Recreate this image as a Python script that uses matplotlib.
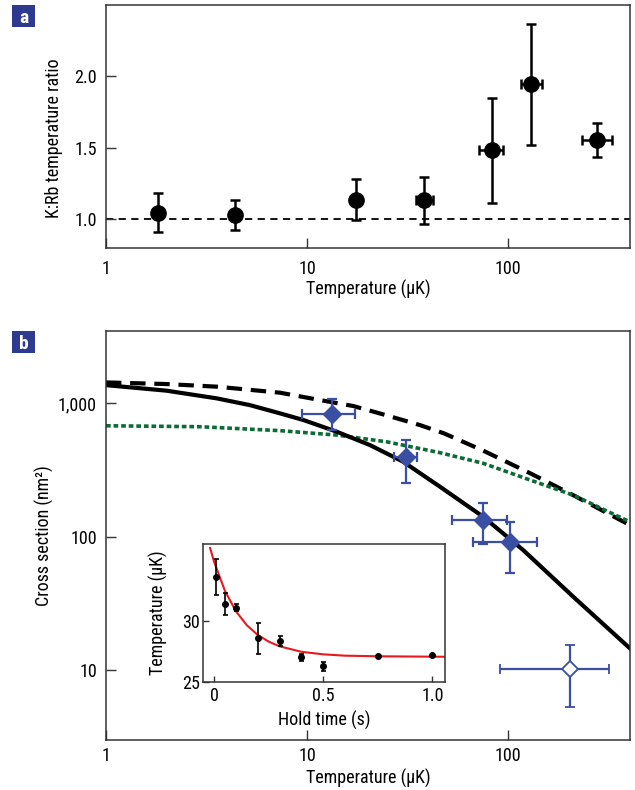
import matplotlib
matplotlib.use("Agg")
import matplotlib.pyplot as plt
from matplotlib.patches import Rectangle
from matplotlib.ticker import FixedLocator, FixedFormatter, NullLocator

plt.rcParams['font.family'] = ['Roboto Condensed', 'Archivo Narrow', 'PT Sans Narrow',
                               'Liberation Sans', 'DejaVu Sans']

# ---------------- Panel a data ----------------
a_T = [1.81, 4.4, 17.5, 38.2, 83, 131, 279]
a_ratio = [1.047, 1.028, 1.139, 1.134, 1.486, 1.944, 1.556]
a_err_lo = [0.137, 0.101, 0.140, 0.164, 0.369, 0.423, 0.122]
a_err_hi = [0.138, 0.106, 0.141, 0.164, 0.364, 0.422, 0.118]
a_xerr_lo = [0, 0, 0, 3.4, 11.2, 15.3, 46]
a_xerr_hi = [0, 0, 0, 4.0, 11.8, 16.0, 49]

# ---------------- Panel b data ----------------
b_T = [13.4, 31.1, 74.8, 103]
b_sigma = [832, 394, 133, 91.6]
b_yerr_lo = [201, 141, 45, 38.6]
b_yerr_hi = [245, 137, 47, 37.4]
b_xerr_lo = [4.0, 3.9, 22.3, 35.8]
b_xerr_hi = [3.9, 4.3, 23.8, 37]

open_T = [203]
open_sigma = [10.2]
open_yerr_lo = [4.95]
open_yerr_hi = [5.2]
open_xerr_lo = [112]
open_xerr_hi = [116]

# theory curves
solid_T = [1.0, 2.0, 3.56, 5.2, 7.35, 9.6, 14.1, 20.6, 30.1, 45.9, 75.3, 119, 211, 405]
solid_sigma = [1370, 1245, 1090, 970, 841, 750, 612, 486, 365, 237, 141, 79.4, 35.5, 14.5]

dashed_T = [1.0, 2.0, 3.56, 7.35, 11.6, 17.0, 24.9, 36.5, 48.0, 75.3, 129, 211, 405]
dashed_sigma = [1436, 1396, 1334, 1202, 1059, 955, 813, 687, 596, 442, 299, 205, 122]

green_T = [1.0, 2.94, 7.35, 14.1, 24.9, 45.7, 75.3, 129, 211, 405]
green_sigma = [679, 668, 624, 578, 515, 427, 355, 266, 205, 129]

# inset data
hold_t = [0.01, 0.05, 0.1, 0.2, 0.3, 0.4, 0.5, 0.75, 1.0]
hold_T = [33.65, 31.4, 31.1, 28.57, 28.35, 27.0, 26.29, 27.12, 27.2]
hold_err_lo = [1.51, 0.91, 0.28, 1.32, 0.38, 0.3, 0.41, 0.1, 0.1]
hold_err_hi = [1.43, 0.88, 0.30, 1.24, 0.44, 0.3, 0.36, 0.1, 0.1]

fit_t = [-0.018, 0.0, 0.05, 0.1, 0.15, 0.2, 0.25, 0.3, 0.4, 0.5, 0.6, 0.75, 1.06]
fit_T = [36.0, 34.88, 32.47, 30.8, 29.65, 28.85, 28.3, 27.91, 27.46, 27.25, 27.14, 27.09, 27.05]

x_ticks = [1, 10, 100]
x_ticklabels = ['1', '10', '100']
a_yticks = [1.0, 1.5, 2.0]
a_yticklabels = ['1.0', '1.5', '2.0']
b_yticks = [10, 100, 1000]
b_yticklabels = ['10', '100', '1,000']
in_xticks = [0, 0.5, 1.0]
in_xticklabels = ['0', '0.5', '1.0']
in_yticks = [25, 30]
in_yticklabels = ['25', '30']

BLUE = '#3a4ea3'
GREEN = '#0b6b35'
NAVY = '#2e3a8f'
SPINE = '#333333'
FS = 13

fig = plt.figure(figsize=(6.35, 7.9), dpi=100)


def style_axes(ax, ticklen=7, xpad=7, ypad=6.5):
    for s in ax.spines.values():
        s.set_color(SPINE)
        s.set_linewidth(1.1)
    ax.tick_params(which='both', direction='in', top=False, right=False,
                   length=ticklen, width=1.0, color=SPINE, labelsize=FS)
    ax.tick_params(axis='x', pad=xpad)
    ax.tick_params(axis='y', pad=ypad)
    ax.xaxis.set_minor_locator(NullLocator())
    ax.yaxis.set_minor_locator(NullLocator())


# ---------------- Panel a ----------------
axa = fig.add_axes([0.1669, 0.6861, 0.8252, 0.3076])
axa.set_xscale('log')
axa.set_xlim(1, 405)
axa.set_ylim(0.8, 2.5)
axa.axhline(1.0, color='black', lw=1.3, ls=(0, (4, 3)), zorder=1)
axa.errorbar(a_T, a_ratio, yerr=[a_err_lo, a_err_hi], xerr=[a_xerr_lo, a_xerr_hi],
             fmt='o', color='black', ms=11, elinewidth=1.8, capsize=3.5, capthick=1.8,
             zorder=3)
style_axes(axa, xpad=8.5)
axa.xaxis.set_major_locator(FixedLocator(x_ticks))
axa.xaxis.set_major_formatter(FixedFormatter(x_ticklabels))
axa.yaxis.set_major_locator(FixedLocator(a_yticks))
axa.yaxis.set_major_formatter(FixedFormatter(a_yticklabels))
axa.set_xlabel('Temperature (\u03bcK)', fontsize=FS, labelpad=1.8)
axa.set_ylabel('K:Rb temperature ratio', fontsize=FS)
axa.yaxis.set_label_coords(-0.082, 0.45)

# ---------------- Panel b ----------------
axb = fig.add_axes([0.1669, 0.0633, 0.8252, 0.5177])
axb.set_xscale('log')
axb.set_yscale('log')
axb.set_xlim(1, 405)
axb.set_ylim(2.98, 3490)
axb.plot(dashed_T, dashed_sigma, color='black', lw=3.0, ls=(0, (3.7, 2.1)), zorder=2)
axb.plot(green_T, green_sigma, color=GREEN, lw=2.6, ls=(0, (1.3, 0.8)), zorder=2)
axb.plot(solid_T, solid_sigma, color='black', lw=3.0, zorder=2)
axb.errorbar(b_T, b_sigma, yerr=[b_yerr_lo, b_yerr_hi], xerr=[b_xerr_lo, b_xerr_hi],
             fmt='D', color=BLUE, ms=9, elinewidth=1.6, capsize=3.5, capthick=1.6, zorder=4)
axb.errorbar(open_T, open_sigma, yerr=[open_yerr_lo, open_yerr_hi],
             xerr=[open_xerr_lo, open_xerr_hi], fmt='D', color=BLUE, mfc='white', mec=BLUE,
             mew=1.3, ms=8, elinewidth=1.6, capsize=3.5, capthick=1.6, zorder=4)
style_axes(axb, xpad=5)
axb.xaxis.set_major_locator(FixedLocator(x_ticks))
axb.xaxis.set_major_formatter(FixedFormatter(x_ticklabels))
axb.yaxis.set_major_locator(FixedLocator(b_yticks))
axb.yaxis.set_major_formatter(FixedFormatter(b_yticklabels))
axb.set_xlabel('Temperature (\u03bcK)', fontsize=FS, labelpad=2.5)
axb.set_ylabel('Cross section (nm\u00b2)', fontsize=FS)
axb.yaxis.set_label_coords(-0.10, 0.5)

# ---------------- Inset ----------------
axi = fig.add_axes([0.3202, 0.1371, 0.3806, 0.1739])
axi.set_zorder(5)
axi.set_xlim(-0.049, 1.058)
axi.set_ylim(25, 36.3)
axi.plot(fit_t, fit_T, color='#e8191e', lw=1.5, zorder=2)
axi.errorbar(hold_t, hold_T, yerr=[hold_err_lo, hold_err_hi], fmt='o', color='black',
             ms=4, elinewidth=1.2, capsize=1.8, capthick=1.2, zorder=3)
style_axes(axi, ticklen=4, xpad=4, ypad=2.5)
axi.xaxis.set_major_locator(FixedLocator(in_xticks))
axi.xaxis.set_major_formatter(FixedFormatter(in_xticklabels))
axi.yaxis.set_major_locator(FixedLocator(in_yticks))
axi.yaxis.set_major_formatter(FixedFormatter(in_yticklabels))
axi.set_xlabel('Hold time (s)', fontsize=FS, labelpad=4)
axi.set_ylabel('Temperature (\u03bcK)', fontsize=FS)
axi.yaxis.set_label_coords(-0.146, 0.5)

# ---------------- panel labels ----------------
for letter, ytop in (('a', 5), ('b', 331)):
    x0, w, h = 12 / 635, 23 / 635, 22 / 790
    y0 = 1 - (ytop + 22) / 790
    fig.add_artist(Rectangle((x0, y0), w, h, transform=fig.transFigure,
                             facecolor=NAVY, edgecolor='none'))
    fig.text(x0 + w / 2, y0 + h / 2 - 0.002, letter, color='white', fontsize=14,
             fontweight='bold', ha='center', va='center')

fig.savefig('out.png', dpi=100)
